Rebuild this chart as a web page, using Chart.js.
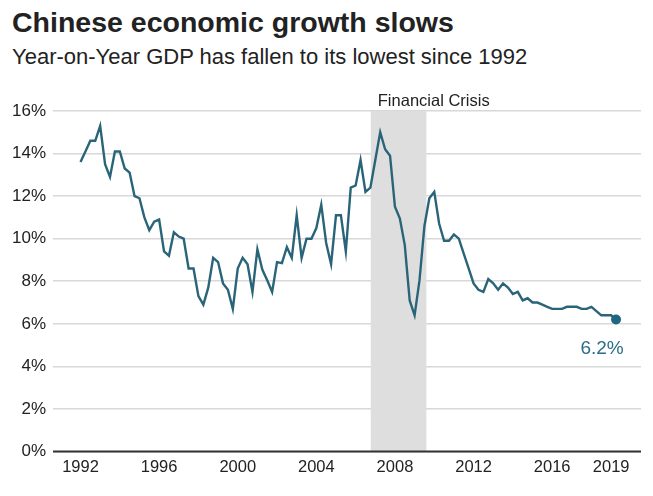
<!DOCTYPE html>
<html>
<head>
<meta charset="utf-8">
<script src="https://cdn.jsdelivr.net/npm/chart.js@4/dist/chart.umd.min.js"></script>
<style>
  html, body { margin: 0; padding: 0; background: #fff; }
  #wrap { position: relative; width: 653px; height: 496px; overflow: hidden; }
  canvas { position: absolute; left: 0; top: 0; }
  .title { position: absolute; left: 12px; top: 6px; font: bold 28.5px "Liberation Sans", Arial, sans-serif; color: #222; white-space: nowrap; }
  .sub { position: absolute; left: 12px; top: 44px; font: 22px "Liberation Sans", Arial, sans-serif; color: #222; white-space: nowrap; }
</style>
</head>
<body>
<div id="wrap">
  <div class="title">Chinese economic growth slows</div>
  <div class="sub">Year-on-Year GDP has fallen to its lowest since 1992</div>
  <canvas id="c" width="653" height="496"></canvas>
</div>
<script>
// ---- data (quarterly, year-on-year GDP growth %, 1992 Q1 .. 2019 Q2) ----
const startYear = 1992;
const gdpGrowth = [
  13.6, 14.1, 14.6, 14.6,   // 1992
  15.3, 13.5, 12.9, 14.1,   // 1993
  14.1, 13.3, 13.1, 12.0,   // 1994
  11.9, 11.0, 10.4, 10.8,   // 1995
  10.9, 9.4, 9.2, 10.3,     // 1996
  10.1, 10.0, 8.6, 8.6,     // 1997
  7.3, 6.9, 7.7, 9.1,       // 1998
  8.9, 7.9, 7.6, 6.7,       // 1999
  8.6, 9.1, 8.8, 7.5,       // 2000
  9.5, 8.55, 8.05, 7.5,     // 2001
  8.9, 8.85, 9.6, 9.1,      // 2002
  11.1, 9.1, 10.0, 10.0,    // 2003
  10.5, 11.6, 9.8, 8.8,     // 2004
  11.1, 11.1, 9.4, 12.4,    // 2005
  12.5, 13.7, 12.2, 12.4,   // 2006
  13.7, 15.0, 14.2, 13.9,   // 2007
  11.5, 10.95, 9.7, 7.1,    // 2008
  6.4, 8.05, 10.6, 11.9,    // 2009
  12.2, 10.7, 9.9, 9.9,     // 2010
  10.2, 10.0, 9.3, 8.6,     // 2011
  7.9, 7.6, 7.5, 8.1,       // 2012
  7.9, 7.6, 7.9, 7.7,       // 2013
  7.4, 7.5, 7.1, 7.2,       // 2014
  7.0, 7.0, 6.9, 6.8,       // 2015
  6.7, 6.7, 6.7, 6.8,       // 2016
  6.8, 6.8, 6.7, 6.7,       // 2017
  6.8, 6.6, 6.4, 6.4,       // 2018
  6.4, 6.2                  // 2019
];
const yearTicks = [1992, 1996, 2000, 2004, 2008, 2012, 2016, 2019];
const yTicks = [0, 2, 4, 6, 8, 10, 12, 14, 16];
const crisisPeriod = [2006.77, 2009.6];
const crisisLabel = "Financial Crisis";
const lastLabel = "6.2%";

// ---- build points ----
const points = gdpGrowth.map((v, i) => ({ x: startYear + i / 4, y: v }));
const lastIdx = points.length - 1;

const FONT = '"Liberation Sans", Arial, sans-serif';
const LINE = '#2a6479';

const bandPlugin = {
  id: 'band',
  beforeDatasetsDraw(chart) {
    const { ctx, chartArea, scales } = chart;
    const x0 = scales.x.getPixelForValue(crisisPeriod[0]);
    const x1 = scales.x.getPixelForValue(crisisPeriod[1]);
    const y0 = scales.y.getPixelForValue(0);
    ctx.save();
    ctx.fillStyle = '#dedede';
    ctx.fillRect(x0, chartArea.top, x1 - x0, y0 - chartArea.top);
    // zero baseline
    ctx.strokeStyle = '#333';
    ctx.lineWidth = 2;
    ctx.beginPath();
    ctx.moveTo(chartArea.left, y0);
    ctx.lineTo(chartArea.right, y0);
    ctx.stroke();
    // crisis label
    ctx.fillStyle = '#222';
    ctx.font = '16.5px ' + FONT;
    ctx.textAlign = 'left';
    ctx.textBaseline = 'alphabetic';
    ctx.fillText(crisisLabel, x0 + 7, chartArea.top - 5);
    ctx.restore();
  },
  afterDatasetsDraw(chart) {
    const { ctx, scales } = chart;
    const p = points[lastIdx];
    const px = scales.x.getPixelForValue(p.x);
    const py = scales.y.getPixelForValue(p.y);
    ctx.save();
    ctx.fillStyle = '#2d6d86';
    ctx.font = '19px ' + FONT;
    ctx.textAlign = 'center';
    ctx.textBaseline = 'middle';
    ctx.fillText(lastLabel, px - 14, py + 29);
    ctx.restore();
  }
};

new Chart(document.getElementById('c'), {
  type: 'line',
  data: {
    datasets: [{
      data: points,
      borderColor: LINE,
      borderWidth: 2.4,
      tension: 0,
      fill: false,
      pointRadius: ctx => ctx.dataIndex === lastIdx ? 5 : 0,
      pointBackgroundColor: '#1f6682',
      pointBorderWidth: 0,
      pointHoverRadius: 0
    }]
  },
  options: {
    responsive: false,
    animation: false,
    devicePixelRatio: 1,
    layout: { padding: { top: 111, right: 12, bottom: 0, left: 0 } },
    plugins: { legend: { display: false }, tooltip: { enabled: false } },
    scales: {
      x: {
        type: 'linear',
        min: 1990.6,
        max: 2020.52,
        afterBuildTicks: s => { s.ticks = yearTicks.map(v => ({ value: v })); },
        afterFit: s => { s.height = 44.5; },
        grid: { display: false, drawTicks: false },
        border: { display: false },
        ticks: {
          autoSkip: false,
          maxRotation: 0,
          padding: 6,
          color: '#222',
          font: { family: FONT, size: 16.5 },
          callback: v => String(v)
        }
      },
      y: {
        min: 0,
        max: 16,
        afterBuildTicks: s => { s.ticks = yTicks.map(v => ({ value: v })); },
        afterFit: s => { s.width = 53; },
        grid: { color: '#d8d8d8', lineWidth: 1.6, drawTicks: false },
        border: { display: false },
        ticks: {
          padding: 7,
          color: '#222',
          font: { family: FONT, size: 17 },
          callback: v => v + '%'
        }
      }
    }
  },
  plugins: [bandPlugin]
});
</script>
</body>
</html>
